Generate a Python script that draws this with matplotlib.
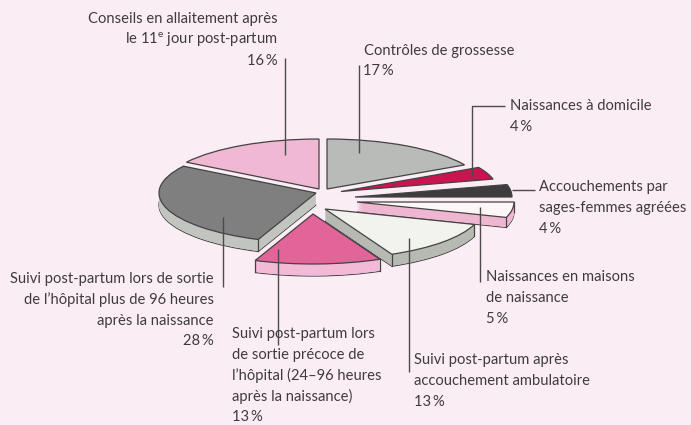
import numpy as np
import matplotlib
matplotlib.use('Agg')
import matplotlib.pyplot as plt
from matplotlib.patches import Wedge

plt.rcParams['font.family'] = ['Lato', 'DejaVu Sans']
plt.rcParams['mathtext.fontset'] = 'custom'
plt.rcParams['mathtext.rm'] = 'Lato'
plt.rcParams['mathtext.default'] = 'rm'

# Share of each service, clockwise from 12 o'clock
shares = [17, 4, 4, 5, 13, 13, 28, 16]

# Slice styling and placement
topColors  = ['#b8bbb8', '#c9144f', '#3f3c3d', '#fdf6f6', '#f2f3ee', '#e2659a', '#7f7f7f', '#f0b8d2']
sideColors = ['#b8bbb8', '#c9144f', '#3f3c3d', '#efb6d2', '#b6bab2', '#f2bad6', '#c2c5bf', '#f0b8d2']
tipX  = [327, 341, 355, 357, 325, 313, 316, 319]     # slice apex, pixels
tipY  = [189, 191.5, 197, 202, 209, 214, 193, 189]
depth = [0, 0, 0, 10, 12, 12, 12, 0]                 # visible thickness, pixels

# Ellipse semi axes and reference centre, pixels
rx, ry = 157., 50.
cx, cy = 323., 198.
width, height = 691, 425
bg   = '#faeef4'
ink  = '#3f3b3d'
line = '#4d4a4c'

fig = plt.figure(figsize=(width/100., height/100.), dpi=100, facecolor=bg)
ax = fig.add_axes([0, 0, 1, 1])

wedges, _ = ax.pie(shares, colors=topColors, startangle=90, counterclock=False,
                   wedgeprops={'edgecolor': '#454244', 'linewidth': 0.9})
ax.set_aspect('auto')
ax.set_xlim(-cx/rx, (width-cx)/rx)
ax.set_ylim(-(height-cy)/ry, cy/ry)

# Push every slice to its own apex, then build its rim out of shifted copies
for i, w in enumerate(wedges):
    x0 = (tipX[i]-cx)/rx
    y0 = (cy-tipY[i])/ry
    w.set_center((x0, y0))
    w.set_zorder(10+2*i+1)
    if depth[i] == 0:
        continue
    d = depth[i]/ry
    ax.add_patch(Wedge((x0, y0-d), 1, w.theta1, w.theta2, facecolor=sideColors[i],
                       edgecolor='#454244', linewidth=0.9, zorder=10+2*i))
    for s in np.linspace(0, d, 3*depth[i], endpoint=False):
        ax.add_patch(Wedge((x0, y0-s), 1, w.theta1, w.theta2, facecolor=sideColors[i],
                           edgecolor='none', zorder=10+2*i))
    for t in [w.theta1, w.theta2]:
        xe = x0+np.cos(np.radians(t))
        ye = y0+np.sin(np.radians(t))
        ax.plot([xe, xe], [ye, ye-d], color='#454244', lw=0.9, zorder=10+2*i)

# Labels and leader lines, in pixels
ov = fig.add_axes([0, 0, 1, 1], facecolor='none')
ov.set_xlim(0, width)
ov.set_ylim(height, 0)
ov.axis('off')

labels = [
    (278,  19, 'right', ['Conseils en allaitement après', 'le 11$^{e}$ jour post-partum', '16\u2009%']),
    (364,  51, 'left',  ['Contrôles de grossesse']),
    (363,  71, 'left',  ['17\u2009%']),
    (510, 106, 'left',  ['Naissances à domicile', '4\u2009%']),
    (539, 187, 'left',  ['Accouchements par', 'sages-femmes agréées', '4\u2009%']),
    (486, 277, 'left',  ['Naissances en maisons', 'de naissance', '5\u2009%']),
    (414, 360, 'left',  ['Suivi post-partum après', 'accouchement ambulatoire', '13\u2009%']),
    (232, 334, 'left',  ['Suivi post-partum lors', 'de sortie précoce de', "l’hôpital (24–96 heures", 'après la naissance)', '13\u2009%']),
    (214, 279, 'right', ['Suivi post-partum lors de sortie', "de l’hôpital plus de 96 heures", 'après la naissance', '28\u2009%']),
]
for x, y, ha, rows in labels:
    for k, row in enumerate(rows):
        ov.text(x, y+k*20.8, row, ha=ha, va='center', fontsize=10.6, color=ink, zorder=30)

leaders = [
    ([285, 285], [58, 155]),
    ([359, 359], [65, 153]),
    ([472, 472, 505], [177, 106, 106]),
    ([512, 535], [190, 190]),
    ([480, 480], [207, 282]),
    ([409, 409], [238, 372]),
    ([278, 278], [249, 345]),
    ([223, 223], [217, 287]),
]
for xs, ys in leaders:
    ov.plot(xs, ys, color=line, lw=1.0, solid_capstyle='butt', zorder=25)

fig.savefig('out.png', dpi=100, facecolor=bg)
